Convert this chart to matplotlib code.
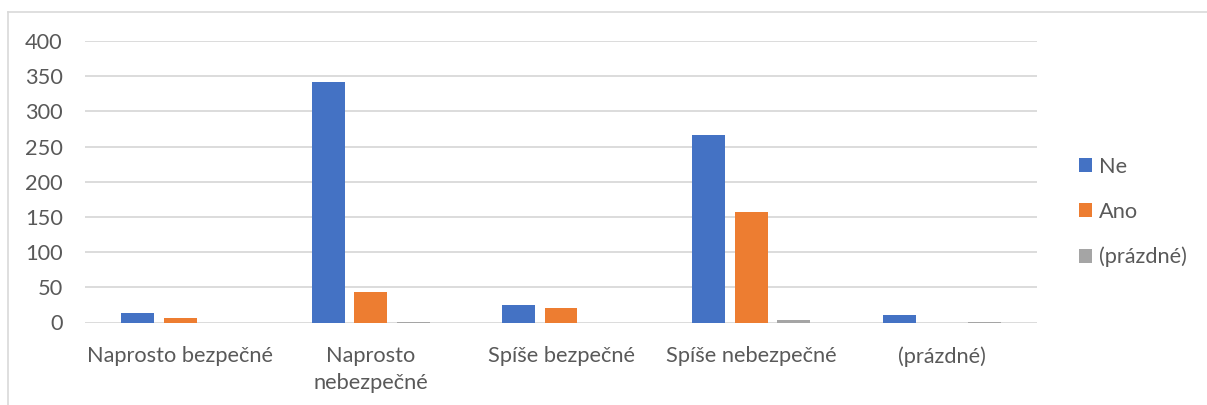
import matplotlib
matplotlib.use("Agg")
import matplotlib.pyplot as plt
from matplotlib.patches import Patch
from matplotlib.lines import Line2D
import numpy as np

categories = ["Naprosto bezpečné", "Naprosto\nnebezpečné", "Spíše bezpečné",
              "Spíše nebezpečné", "(prázdné)"]
series_names = ["Ne", "Ano", "(prázdné)"]
ne_values = [13, 342, 25, 267, 10]
ano_values = [6, 44, 20, 157, 0]
blank_values = [0, 1, 0, 3, 1]
y_ticks = [0, 50, 100, 150, 200, 250, 300, 350, 400]

colors = ["#4472C4", "#ED7D31", "#A5A5A5"]
grid_color = "#D9D9D9"
text_color = "#595959"

plt.rcParams["font.family"] = ["Lato", "DejaVu Sans"]
fs = 15.7

fig = plt.figure(figsize=(12.07, 4.05), dpi=100)
ax = fig.add_axes([85 / 1207, 1 - 322.5 / 405, 952 / 1207, 281.5 / 405])

x = np.arange(len(categories))
bar_w = 0.173
step = 0.223
for i, (vals, col) in enumerate(zip([ne_values, ano_values, blank_values], colors)):
    ax.bar(x + (i - 1) * step, vals, width=bar_w, color=col, zorder=3,
           label=series_names[i])

ax.set_xlim(-0.5, len(categories) - 0.5)
ax.set_ylim(0, 400)
ax.set_yticks(y_ticks)
ax.set_xticks(x)
ax.set_xticklabels(categories, linespacing=1.4)
ax.tick_params(axis="both", length=0, labelsize=fs, colors=text_color)
ax.tick_params(axis="y", pad=16)
ax.tick_params(axis="x", pad=17)
ax.yaxis.grid(True, color=grid_color, linewidth=1.3, zorder=0)
for s in ax.spines.values():
    s.set_visible(False)

handles = [Patch(facecolor=c, edgecolor="none") for c in colors]
fig.legend(handles, series_names, loc="center left",
           bbox_to_anchor=(1079 / 1207, 1 - 212 / 405), frameon=False,
           fontsize=fs, labelcolor=text_color, handlelength=0.6,
           handleheight=0.6, handletextpad=0.3, labelspacing=1.15,
           borderpad=0, borderaxespad=0)

# chart area border (left and top edges)
fig.add_artist(Line2D([8 / 1207, 8 / 1207], [0, 1 - 12 / 405],
                      color=grid_color, linewidth=1.2, transform=fig.transFigure))
fig.add_artist(Line2D([8 / 1207, 1], [1 - 12 / 405, 1 - 12 / 405],
                      color=grid_color, linewidth=1.2, transform=fig.transFigure))

fig.savefig("out.png", dpi=100, facecolor="white")
